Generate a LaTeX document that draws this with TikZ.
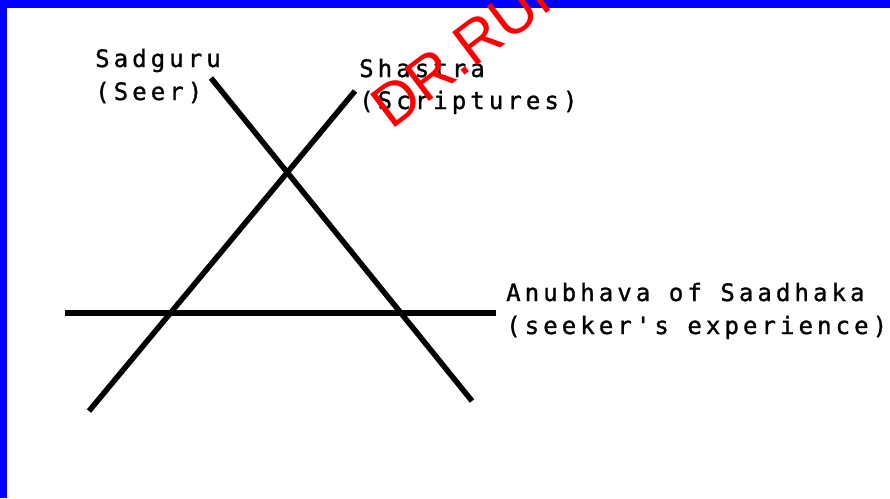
\documentclass[tikz,border=0pt]{standalone}
\usepackage{fontspec}
\newfontfamily\labelfont[LetterSpace=17,FakeBold=1.2]{DejaVu Sans Mono}
\newfontfamily\markfont{Liberation Sans}
\definecolor{framecol}{RGB}{0,0,255}
\definecolor{markcol}{RGB}{255,0,0}
\begin{document}
\begin{tikzpicture}[x=1pt,y=-1pt,
  lbl/.style={font=\labelfont\fontsize{24}{32}\selectfont, inner sep=0pt, anchor=base west},
  bar/.style={line width=5.5pt, black},
  wmark/.style={font=\markfont\fontsize{60}{60}\selectfont, text=markcol, inner sep=0pt, anchor=base west, rotate=37}]
\useasboundingbox (0,0) rectangle (890,498);
\fill[white] (0,0) rectangle (890,498);
\fill[framecol] (0,0) rectangle (890,7.5);
\fill[framecol] (0,0) rectangle (7,498);
% line end points
\coordinate (sgTop) at (211,78);
\coordinate (sgBot) at (472,401);
\coordinate (shTop) at (355,91);
\coordinate (shBot) at (89,411);
\coordinate (anL) at (65,313);
\coordinate (anR) at (496,313);
\draw[bar] (sgTop) -- (sgBot);
\draw[bar] (shTop) -- (shBot);
\draw[bar] (anL) -- (anR);
% labels
\node[lbl] (sadguru) at (95,67) {Sadguru};
\node[lbl] (seer) at (95,100) {(Seer)};
\node[lbl] (shastra) at (359,77) {Shastra};
\node[lbl] (scriptures) at (359,109) {(Scriptures)};
\node[lbl] (anubhava) at (506,301) {Anubhava of Saadhaka};
\node[lbl] (seeker) at (506,334) {(seeker's experience)};
% watermark
\begin{scope}
\clip (0,0) rectangle (890,498);
\node[wmark] (wm) at (391,131) {DR.RUP};
\end{scope}
\end{tikzpicture}
\end{document}
